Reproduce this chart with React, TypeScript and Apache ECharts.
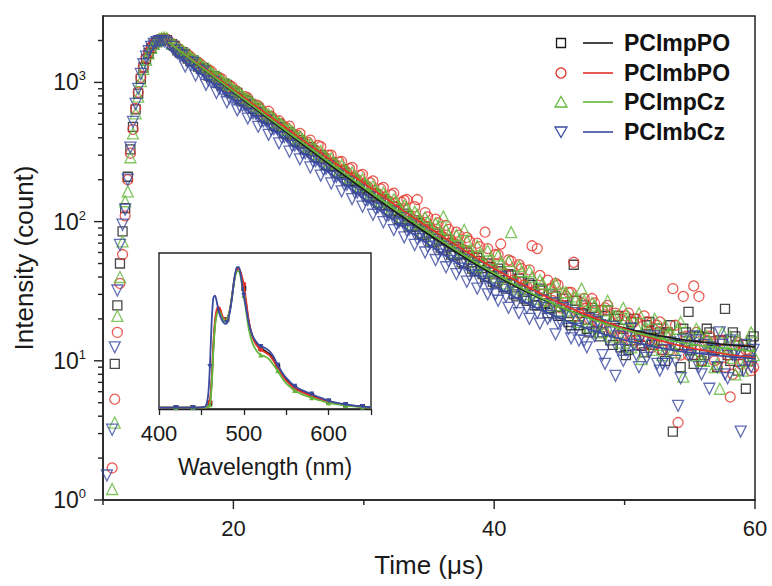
import React, { useEffect, useRef } from "react";
import * as echarts from "echarts";

const FONT = '"Liberation Sans", Arial, Helvetica, sans-serif';

const names = ["PCImpPO", "PCImbPO", "PCImpCz", "PCImbCz"];
const colors = ["#1a1a1a", "#e3342b", "#63b83b", "#3b4aa0"];
const symbols = ["rect", "circle", "triangle", "triangle"];
const rotations = [0, 0, 0, 180];
const sizes = [9, 10, 11, 11];

// time grid A (µs)
const times = [
  10.3, 10.5, 10.7, 10.9, 11.1, 11.3, 11.5, 11.7, 11.9, 12.1, 12.3, 12.5, 12.7, 12.9, 13.1, 13.3, 13.5, 13.7, 13.9, 14.1, 14.3, 14.5, 14.7, 14.9,
  15.3, 15.7, 16.1, 16.5, 16.9, 17.3, 17.7, 18.1, 18.5, 18.9, 19.3, 19.7, 20.1, 20.5, 20.9, 21.3, 21.7, 22.1, 22.5, 22.9,
  23.3, 23.7, 24.1, 24.5, 24.9, 25.3, 25.7, 26.1, 26.5, 26.9, 27.3, 27.7, 28.1, 28.5, 28.9, 29.3, 29.7, 30.1, 30.5, 30.9,
  31.3, 31.7, 32.1, 32.5, 32.9, 33.3, 33.7, 34.1, 34.5, 34.9, 35.3, 35.7, 36.1, 36.5, 36.9, 37.3, 37.7, 38.1, 38.5, 38.9,
  39.3, 39.7, 40.1, 40.5, 40.9, 41.3, 41.7, 42.1, 42.5, 42.9, 43.3, 43.7, 44.1, 44.5, 44.9, 45.3, 45.7, 46.1, 46.5, 46.9,
  47.3, 47.7, 48.1, 48.5, 48.9, 49.3, 49.7, 50.1, 50.5, 50.9, 51.3, 51.7, 52.1, 52.5, 52.9, 53.3, 53.7, 54.1, 54.5, 54.9,
  55.3, 55.7, 56.1, 56.5, 56.9, 57.3, 57.7, 58.1, 58.5, 58.9, 59.3, 59.7,
];

// time grid B (µs), interleaved channels
const times2 = [
  15.5, 15.9, 16.3, 16.7, 17.1, 17.5, 17.9, 18.3, 18.7, 19.1, 19.5, 19.9, 20.3, 20.7, 21.1, 21.5, 21.9, 22.3, 22.7, 23.1,
  23.5, 23.9, 24.3, 24.7, 25.1, 25.5, 25.9, 26.3, 26.7, 27.1, 27.5, 27.9, 28.3, 28.7, 29.1, 29.5, 29.9, 30.3, 30.7, 31.1,
  31.5, 31.9, 32.3, 32.7, 33.1, 33.5, 33.9, 34.3, 34.7, 35.1, 35.5, 35.9, 36.3, 36.7, 37.1, 37.5, 37.9, 38.3, 38.7, 39.1,
  39.5, 39.9, 40.3, 40.7, 41.1, 41.5, 41.9, 42.3, 42.7, 43.1, 43.5, 43.9, 44.3, 44.7, 45.1, 45.5, 45.9, 46.3, 46.7, 47.1,
  47.5, 47.9, 48.3, 48.7, 49.1, 49.5, 49.9, 50.3, 50.7, 51.1, 51.5, 51.9, 52.3, 52.7, 53.1, 53.5, 53.9, 54.3, 54.7, 55.1,
  55.5, 55.9, 56.3, 56.7, 57.1, 57.5, 57.9, 58.3, 58.7, 59.1, 59.5, 59.9,
];

const blackCounts = [
  null, null, null, 9.5, 25, 50, 85, 125, 210, 330, 480, 640, 830, 1060, 1280, 1470, 1620, 1760, 1870, 1950, 2000, 2030, 2040, 2010,
  1880, 1700, 1650, 1480, 1440, 1300, 1270, 1120, 1110, 990,
  980, 870, 860, 760, 750, 700, 620, 615, 548, 540,
  480, 478, 425, 420, 372, 365, 328, 322, 290, 285,
  252, 250, 222, 224, 196, 194, 170, 176, 150, 155,
  132, 140, 116, 121, 101, 110, 92, 98, 80, 88,
  71, 79, 63, 70, 57, 64, 50, 57, 44, 52,
  40, 47, 36, 44, 33, 41, 29, 37, 27, 35,
  25, 32, 22, 30, 21, 28, 19, 49, 18, 25,
  16, 23, 15, 21, 14, 20, 12.5, 11, 19, 14,
  12.8, 18, 13, 17, 12, 16, 3.1, 13, 17, 22.5,
  9.5, 15, 11, 16, 12, 14, 23.6, 10, 15, 11,
  6.3, 14,
];
const blackCounts2 = [
  1830, 1640, 1600, 1420, 1400, 1250, 1230, 1090, 1080, 950,
  960, 835, 840, 730, 735, 645, 650, 560, 570, 490,
  505, 432, 440, 380, 385, 330, 342, 292, 300, 256,
  265, 225, 232, 198, 205, 175, 182, 152, 160, 136,
  145, 120, 128, 104, 114, 92, 102, 82, 92, 72,
  82, 65, 74, 58, 66, 51, 60, 46, 55, 42,
  50, 37, 46, 34, 42, 30, 39, 28, 36, 25,
  33, 26, 24, 29, 21, 25, 18, 27, 22, 17,
  24, 19, 16, 23, 13, 21, 17, 12, 20, 15,
  11.5, 19, 14, 16, 10, 18, 13, 9, 16, 12,
  15, 10, 17, 12, 9, 14, 11, 16, 8.5, 13,
  10, 15,
];

const redCounts = [
  null, null, 1.7, 5.3, 16, 36, 58, 110, 200, 310, 460, 650, 850, 1090, 1300, 1490, 1650, 1790, 1900, 1980, 2030, 2060, 2070, 2040,
  1900, 1780, 1620, 1580, 1420, 1390, 1240, 1230, 1090, 1080,
  960, 950, 880, 790, 790, 700, 690, 640, 575, 570,
  505, 500, 470, 420, 418, 370, 372, 325, 352, 290,
  300, 258, 268, 236, 240, 204, 215, 180, 190, 160,
  172, 142, 156, 128, 138, 144, 105, 144, 96, 108,
  86, 98, 77, 88, 69, 80, 62, 72, 55, 66,
  84, 48, 58, 69, 42, 52, 37, 46, 34, 67,
  64, 30, 38, 27, 35, 25, 31, 51, 22, 28,
  20, 26, 18, 24, 17, 22, 15, 21, 14, 20,
  13, 19, 12.5, 18, 12, 16, 33, 3.6, 29, 11,
  34.5, 29, 13, 15, 10, 14, 9, 5.5, 13, 9.5,
  12, 8.5,
];
const redCounts2 = [
  1830, 1720, 1560, 1530, 1380, 1350, 1210, 1200, 1070, 1060,
  940, 930, 860, 775, 775, 690, 680, 605, 620, 535,
  530, 470, 485, 415, 430, 368, 385, 326, 345, 287,
  300, 255, 270, 226, 245, 200, 218, 178, 196, 158,
  176, 140, 160, 125, 142, 111, 128, 99, 116, 88,
  104, 79, 94, 71, 84, 63, 77, 57, 70, 51,
  64, 46, 58, 42, 53, 38, 49, 35, 45, 32,
  41, 27, 33, 36, 24, 29, 31, 21, 26, 24,
  28, 19, 23, 25, 17, 21, 15, 22, 19, 14.5,
  21, 16, 13, 19, 15, 12, 18, 11, 15, 13,
  16, 10, 14, 12.5, 9, 14, 11, 8, 13.5, 10,
  12, 9,
];

const greenCounts = [
  null, null, 1.2, 3.6, 21, 40, 72, 140, 165, 290, 430, 600, 790, 1020, 1250, 1450, 1620, 1770, 1890, 1980, 2050, 2090, 2100, 2080,
  1900, 1790, 1700, 1600, 1480, 1420, 1300, 1250, 1140, 1100,
  1000, 960, 880, 840, 770, 740, 670, 655, 590, 572,
  515, 500, 455, 445, 395, 390, 345, 342, 305, 300,
  265, 268, 232, 240, 205, 212, 180, 188, 158, 170,
  140, 152, 124, 138, 108, 126, 96, 112, 84, 100,
  74, 90, 109, 80, 60, 72, 87, 62, 48, 58,
  44, 54, 40, 50, 36, 84, 33, 44, 30, 40,
  28, 36, 25, 34, 23, 31, 21, 29, 19, 27,
  17.5, 25, 16, 23, 15, 21, 13.5, 20, 12.5, 18,
  10.3, 17, 12, 16, 11, 15.5, 12, 17, 7.7, 14,
  11, 16, 10, 13.5, 9, 6.3, 12.5, 15, 8, 13,
  10, 16,
];
const greenCounts2 = [
  1860, 1740, 1630, 1530, 1430, 1340, 1255, 1180, 1100, 1040,
  975, 905, 860, 800, 760, 705, 668, 622, 590, 548,
  520, 484, 460, 426, 408, 376, 362, 332, 322, 294,
  285, 260, 254, 231, 226, 205, 202, 182, 180, 162,
  162, 144, 145, 128, 131, 114, 118, 101, 107, 90,
  97, 80, 88, 71, 80, 63, 73, 56, 67, 50,
  62, 45, 57, 41, 52, 37, 48, 34, 44, 31,
  38, 30, 27, 36, 25, 31, 23, 28, 33, 20,
  26, 22, 18.5, 27, 21, 16, 24, 19, 15, 22,
  17, 14, 20, 13, 18, 16, 11.5, 19, 14, 12,
  17, 10, 15, 13, 9.5, 16, 12, 10.5, 14, 8.5,
  13, 11,
];

const blueCounts = [
  1.5, null, 3.2, 12.5, 32, 68, 95, 122, 200, 340, 520, 700, 900, 1150, 1350, 1530, 1680, 1800, 1890, 1950, 1980, 1990, 1970, 1920,
  1800, 1620, 1560, 1400, 1380, 1230, 1200, 1030, 1010, 900,
  880, 770, 760, 670, 680, 590, 600, 520, 530, 455,
  470, 400, 410, 350, 362, 308, 320, 270, 282, 236,
  250, 210, 218, 184, 193, 162, 170, 142, 150, 124,
  134, 110, 118, 96, 106, 86, 94, 75, 84, 66,
  74, 58, 66, 52, 59, 46, 53, 41, 48, 37,
  43, 33, 30, 40, 29, 35, 26, 32, 24, 29,
  22, 27, 20, 26, 18.5, 24, 17, 22, 14, 13.9,
  20, 15, 18, 9.5, 16, 7.8, 15, 12, 17, 11,
  15, 10.5, 14, 9.5, 9.5, 9.5, 13, 4.75, 14, 11,
  15, 9, 13, 6.3, 12, 16, 8, 14, 11, 3.1,
  13, 9,
];
const blueCounts2 = [
  1700, 1560, 1300, 1340, 1120, 1160, 960, 1010, 840, 880,
  720, 770, 630, 680, 550, 600, 480, 525, 420, 462,
  365, 405, 318, 352, 280, 310, 245, 272, 214, 240,
  188, 210, 165, 184, 145, 162, 128, 143, 112, 126,
  99, 111, 87, 99, 77, 88, 68, 78, 60, 70,
  53, 62, 47, 56, 42, 50, 37, 45, 33, 41,
  30, 37, 27, 34, 24, 31, 22, 29, 20, 27,
  18.5, 24, 21, 15.5, 19, 23, 14.5, 17, 20, 12.5,
  16, 19, 11, 14, 17.5, 12, 10, 15.5, 13, 9,
  14, 11.5, 15, 8.5, 12, 13.5, 10, 7.5, 12.5, 11,
  14, 8, 10.5, 12.5, 9, 13, 7.5, 11, 12, 8.5,
  10, 12,
];

// fitted decay curves
const fitTimes = [15, 16, 18, 20, 22, 24, 26, 28, 30, 32, 34, 36, 38, 40, 42, 44, 46, 48, 50, 52, 54, 56, 58, 60];
const blackFit = [1946, 1649, 1186, 852, 614, 443, 321, 233, 170, 125, 93, 70, 53.4, 41.5, 33, 26.9, 22.5, 19.4, 17.2, 15.6, 14.4, 13.6, 13, 12.6];
const redFit = [1947, 1663, 1213, 886, 647, 474, 347, 256, 189, 140, 104, 78.6, 59.8, 46.1, 36.2, 28.9, 23.6, 19.8, 17, 14.6, 13, 11.9, 11.1, 10.5];
const greenFit = [1946, 1653, 1194, 864, 625, 453, 330, 240, 176, 130, 96.4, 72.5, 55, 42.6, 33.7, 27.2, 22.5, 19.2, 16.7, 15, 13.7, 12.8, 12.2, 11.7];
const blueFit = [1750, 1478, 1056, 755, 541, 388, 279, 201.5, 146.5, 107, 79, 59, 44.8, 34.6, 27.4, 22.3, 18.6, 16, 14.1, 12.8, 11.8, 11.2, 10.7, 10.35];

// inset: normalized PL spectra
const wavelengths = [
  400, 410, 420, 430, 440, 450, 455, 458, 460, 462, 464, 466, 468, 470, 472, 474, 476, 478, 480, 482, 484, 486, 488, 490, 492,
  494, 496, 498, 500, 503, 506, 510, 515, 520, 525, 530, 535, 540, 545, 550, 560, 570, 580, 590, 600, 610, 620, 630, 640, 650,
];
const blackPL = [
  0.01, 0.01, 0.01, 0.01, 0.01, 0.01, 0.01, 0.013, 0.04, 0.18, 0.42, 0.6, 0.68, 0.71, 0.7, 0.66, 0.63, 0.62, 0.63, 0.66, 0.71, 0.79, 0.88, 0.95, 0.98,
  0.99, 0.96, 0.91, 0.85, 0.73, 0.61, 0.52, 0.46, 0.43, 0.41, 0.39, 0.35, 0.3, 0.25, 0.21, 0.15, 0.12, 0.095, 0.072, 0.052, 0.039, 0.029, 0.022, 0.017, 0.011,
];
const redPL = [
  0.01, 0.01, 0.01, 0.01, 0.01, 0.01, 0.01, 0.015, 0.05, 0.2, 0.45, 0.62, 0.7, 0.72, 0.71, 0.67, 0.64, 0.62, 0.63, 0.66, 0.71, 0.79, 0.88, 0.95, 0.98,
  0.99, 0.97, 0.93, 0.88, 0.75, 0.62, 0.51, 0.45, 0.42, 0.4, 0.38, 0.34, 0.29, 0.24, 0.2, 0.145, 0.115, 0.09, 0.07, 0.05, 0.038, 0.028, 0.021, 0.016, 0.011,
];
const greenPL = [
  0.01, 0.01, 0.01, 0.01, 0.01, 0.01, 0.01, 0.012, 0.03, 0.15, 0.4, 0.58, 0.66, 0.69, 0.68, 0.65, 0.63, 0.62, 0.63, 0.66, 0.71, 0.79, 0.87, 0.94, 0.97,
  0.97, 0.94, 0.87, 0.8, 0.68, 0.56, 0.47, 0.41, 0.38, 0.37, 0.35, 0.31, 0.27, 0.22, 0.18, 0.13, 0.1, 0.08, 0.06, 0.043, 0.032, 0.024, 0.018, 0.014, 0.01,
];
const bluePL = [
  0.01, 0.01, 0.01, 0.01, 0.01, 0.012, 0.02, 0.1, 0.3, 0.6, 0.78, 0.8, 0.76, 0.7, 0.66, 0.63, 0.61, 0.6, 0.61, 0.64, 0.7, 0.78, 0.88, 0.96, 1.0,
  1.0, 0.96, 0.88, 0.8, 0.7, 0.6, 0.52, 0.47, 0.44, 0.43, 0.41, 0.37, 0.31, 0.26, 0.22, 0.16, 0.13, 0.105, 0.08, 0.058, 0.043, 0.032, 0.024, 0.018, 0.012,
];

// axis ticks / labels
const xTickLabels = [20, 40, 60];
const xMinorTicks = [10, 30, 50];
const yMajorTicks = [1, 10, 100, 1000];
const yMinorTicks = [2, 3, 4, 5, 6, 7, 8, 9, 20, 30, 40, 50, 60, 70, 80, 90, 200, 300, 400, 500, 600, 700, 800, 900, 2000];
const insetTickLabels = [400, 500, 600];

const countSets = [blackCounts, redCounts, greenCounts, blueCounts];
const countSets2 = [blackCounts2, redCounts2, greenCounts2, blueCounts2];
const fitSets = [blackFit, redFit, greenFit, blueFit];
const plSets = [blackPL, redPL, greenPL, bluePL];

const TEXT = "#1a1a1a";
const AXIS = "#222";

function buildOption() {
  const scatterSeries = countSets.map((vals, i) => ({
    name: names[i],
    type: "scatter",
    xAxisIndex: 0,
    yAxisIndex: 0,
    data: [
      ...times.map((t, k) => [t, vals[k]]),
      ...times2.map((t, k) => [t, countSets2[i][k]]),
    ].filter((d) => d[1] != null),
    symbol: symbols[i],
    symbolSize: sizes[i],
    symbolRotate: rotations[i],
    itemStyle: { color: "rgba(255,255,255,0)", borderColor: colors[i], borderWidth: 1.3 },
    z: 2 + i * 0.01,
  }));

  const fitSeries = fitSets.map((vals, i) => ({
    name: names[i] + " fit",
    type: "line",
    xAxisIndex: 0,
    yAxisIndex: 0,
    data: fitTimes.map((t, k) => [t, vals[k]]),
    smooth: true,
    symbol: "none",
    lineStyle: { color: colors[i], width: 1.7 },
    z: 3,
  }));

  const insetSeries = plSets.map((vals, i) => ({
    name: names[i] + " PL",
    type: "line",
    xAxisIndex: 1,
    yAxisIndex: 1,
    data: wavelengths.map((w, k) => [w, vals[k]]),
    smooth: 0.3,
    showAllSymbol: true,
    symbol: (value: number[]) => (value[0] >= 420 && value[0] % 20 === 0 ? symbols[i] : "none"),
    symbolSize: 5,
    symbolRotate: rotations[i],
    itemStyle: { color: colors[i] },
    lineStyle: { color: colors[i], width: 1.8 },
    z: 6 + i * 0.01,
  }));

  const tickData: number[][] = [];
  yMajorTicks.forEach((v) => tickData.push([10, v, 0, 9]));
  yMinorTicks.forEach((v) => tickData.push([10, v, 0, 5]));
  xTickLabels.forEach((v) => tickData.push([v, 1, 1, 9]));
  xMinorTicks.forEach((v) => tickData.push([v, 1, 1, 5]));

  const tickSeries = {
    type: "custom",
    xAxisIndex: 0,
    yAxisIndex: 0,
    clip: false,
    silent: true,
    z: 4,
    data: tickData,
    encode: { x: 0, y: 1 },
    renderItem: (_params: any, api: any) => {
      const p = api.coord([api.value(0), api.value(1)]);
      const kind = api.value(2);
      const len = api.value(3);
      const shape =
        kind === 0
          ? { x1: p[0] - len, y1: p[1], x2: p[0], y2: p[1] }
          : { x1: p[0], y1: p[1], x2: p[0], y2: p[1] + len };
      return { type: "line", shape, style: { stroke: AXIS, lineWidth: 1.4 } };
    },
  };

  const legendRows = [43, 73, 102, 132];
  const legendGraphics: any[] = [];
  names.forEach((n, i) => {
    const y = legendRows[i];
    const cx = 561;
    const st = { fill: "rgba(255,255,255,0)", stroke: colors[i], lineWidth: 1.3 };
    if (i === 0) legendGraphics.push({ type: "rect", shape: { x: cx - 4.5, y: y - 4.5, width: 9, height: 9 }, style: st });
    if (i === 1) legendGraphics.push({ type: "circle", shape: { cx, cy: y, r: 5 }, style: st });
    if (i === 2)
      legendGraphics.push({ type: "polygon", shape: { points: [[cx, y - 5.5], [cx + 6, y + 5], [cx - 6, y + 5]] }, style: st });
    if (i === 3)
      legendGraphics.push({ type: "polygon", shape: { points: [[cx - 6, y - 5], [cx + 6, y - 5], [cx, y + 5.5]] }, style: st });
    legendGraphics.push({ type: "line", shape: { x1: 583, y1: y, x2: 613, y2: y }, style: { stroke: colors[i], lineWidth: 1.6 } });
    legendGraphics.push({
      type: "text",
      x: 624,
      y,
      style: { text: n, font: `bold 23px ${FONT}`, fill: "#111", verticalAlign: "middle", align: "left" },
    });
  });

  return {
    animation: false,
    backgroundColor: "#ffffff",
    textStyle: { fontFamily: FONT },
    grid: [
      { left: 103, top: 16, width: 652, height: 484, show: true, borderColor: AXIS, borderWidth: 1.5, backgroundColor: "rgba(0,0,0,0)" },
      { left: 159, top: 253, width: 212, height: 156, show: true, borderColor: AXIS, borderWidth: 1.4, backgroundColor: "#ffffff" },
    ],
    xAxis: [
      {
        gridIndex: 0,
        type: "value",
        min: 10,
        max: 60,
        interval: 10,
        axisLine: { show: true, lineStyle: { color: AXIS, width: 1.5 } },
        axisTick: { show: false },
        splitLine: { show: false },
        axisLabel: {
          margin: 17,
          fontSize: 22,
          color: TEXT,
          fontFamily: FONT,
          formatter: (v: number) => (xTickLabels.includes(v) ? String(v) : ""),
        },
        name: "Time (μs)",
        nameLocation: "middle",
        nameGap: 52,
        nameTextStyle: { fontSize: 26, color: TEXT, fontFamily: FONT },
      },
      {
        gridIndex: 1,
        type: "value",
        min: 400,
        max: 650,
        interval: 50,
        axisLine: { show: true, lineStyle: { color: AXIS, width: 1.4 } },
        axisTick: { show: true, inside: false, length: 6, lineStyle: { color: AXIS, width: 1.3 } },
        splitLine: { show: false },
        axisLabel: {
          margin: 13,
          fontSize: 22,
          color: TEXT,
          fontFamily: FONT,
          formatter: (v: number) => (insetTickLabels.includes(v) ? String(v) : ""),
        },
        name: "Wavelength (nm)",
        nameLocation: "middle",
        nameGap: 46,
        nameTextStyle: { fontSize: 23, color: TEXT, fontFamily: FONT },
      },
    ],
    yAxis: [
      {
        gridIndex: 0,
        type: "log",
        logBase: 10,
        min: 1,
        max: 3000,
        axisLine: { show: true, lineStyle: { color: AXIS, width: 1.5 } },
        axisTick: { show: false },
        minorTick: { show: false },
        splitLine: { show: false },
        axisLabel: {
          margin: 17,
          color: TEXT,
          fontFamily: FONT,
          formatter: (v: number) => {
            const l = Math.log10(v);
            const e = Math.round(l);
            if (Math.abs(l - e) > 1e-6) return "";
            return `{b|10}{s|${e}}`;
          },
          rich: {
            b: { fontSize: 23, fontFamily: FONT, color: TEXT, lineHeight: 26 },
            s: { fontSize: 13, fontFamily: FONT, color: TEXT, verticalAlign: "top", lineHeight: 15 },
          },
        },
        name: "Intensity (count)",
        nameLocation: "middle",
        nameGap: 66,
        nameTextStyle: { fontSize: 26, color: TEXT, fontFamily: FONT },
      },
      {
        gridIndex: 1,
        type: "value",
        min: 0,
        max: 1.1,
        show: false,
        splitLine: { show: false },
      },
    ],
    graphic: legendGraphics,
    series: [...scatterSeries, ...fitSeries, tickSeries, ...insetSeries],
  };
}

export default function App() {
  const ref = useRef<HTMLDivElement>(null);
  useEffect(() => {
    document.body.style.margin = "0";
    if (!ref.current) return;
    const chart = echarts.init(ref.current, undefined, { renderer: "svg" });
    chart.setOption(buildOption() as any);
    return () => chart.dispose();
  }, []);
  return <div ref={ref} style={{ width: 772, height: 586 }} />;
}
